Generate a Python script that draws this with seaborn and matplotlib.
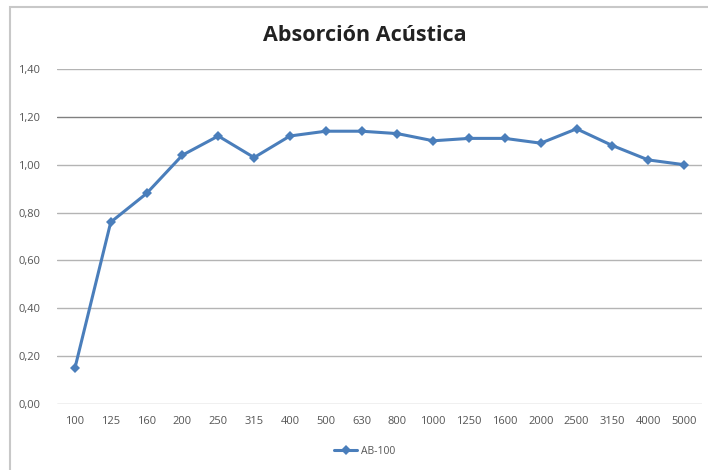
import matplotlib
matplotlib.use("Agg")
import matplotlib.pyplot as plt
from matplotlib.patches import Rectangle
import seaborn as sns
import pandas as pd

# Third-octave band centre frequencies (Hz) and absorption coefficients
frequencies = ["100", "125", "160", "200", "250", "315", "400", "500", "630",
               "800", "1000", "1250", "1600", "2000", "2500", "3150", "4000", "5000"]
absorption = [0.15, 0.76, 0.88, 1.04, 1.12, 1.03, 1.12, 1.14, 1.14,
              1.13, 1.10, 1.11, 1.11, 1.09, 1.15, 1.08, 1.02, 1.00]
series_name = "AB-100"
y_ticks = [0.0, 0.2, 0.4, 0.6, 0.8, 1.0, 1.2, 1.4]

df = pd.DataFrame({"freq": frequencies, "alpha": absorption, "serie": series_name})

sns.set_theme(style="white")
plt.rcParams["font.family"] = ["Open Sans", "DejaVu Sans"]

fig = plt.figure(figsize=(7.08, 4.70), dpi=100)
ax = fig.add_axes([57 / 708, 1 - 404 / 470, (702 - 57) / 708, (404 - 69) / 470])

line_color = "#4a7ebb"
sns.lineplot(data=df, x="freq", y="alpha", hue="serie", palette=[line_color],
             marker="D", markersize=5, markeredgewidth=0, linewidth=2.2,
             sort=False, ax=ax, legend=True)

ax.set_xlim(-0.5, len(frequencies) - 0.5)
ax.set_ylim(0, 1.4)
ax.set_yticks(y_ticks)
ax.set_yticklabels([f"{v:.2f}".replace(".", ",") for v in y_ticks])
ax.set_xticks(range(len(frequencies)))
ax.set_xticklabels(frequencies)
ax.tick_params(axis="both", length=0, labelsize=8, colors="#555555")
ax.tick_params(axis="x", pad=9)
ax.tick_params(axis="y", pad=12)
ax.set_xlabel("")
ax.set_ylabel("")

# Horizontal gridlines
for v in y_ticks:
    col = "#808080" if abs(v - 1.2) < 1e-9 else "#b4b4b4"
    ax.axhline(v, color=col, linewidth=1.0, zorder=0)

for s in ax.spines.values():
    s.set_visible(False)

ax.set_title("Absorción Acústica", fontsize=15.5, fontweight="bold",
             color="#222222", pad=20, x=(365 - 57) / 645)

handles, labels = ax.get_legend_handles_labels()
leg = ax.legend(handles, labels, loc="center", bbox_to_anchor=(365 / 708, 1 - 451 / 470),
                bbox_transform=fig.transFigure, frameon=False, fontsize=7.5,
                handlelength=2.2, handletextpad=0.4)
for t in leg.get_texts():
    t.set_color("#555555")

# Chart frame
fig.patches.append(Rectangle((10 / 708, -0.05), 1.2, 1 - 7 / 470 + 0.05,
                             transform=fig.transFigure, fill=False,
                             edgecolor="#c8c8c8", linewidth=1.5))

fig.savefig("out.png", dpi=100, facecolor="white")
